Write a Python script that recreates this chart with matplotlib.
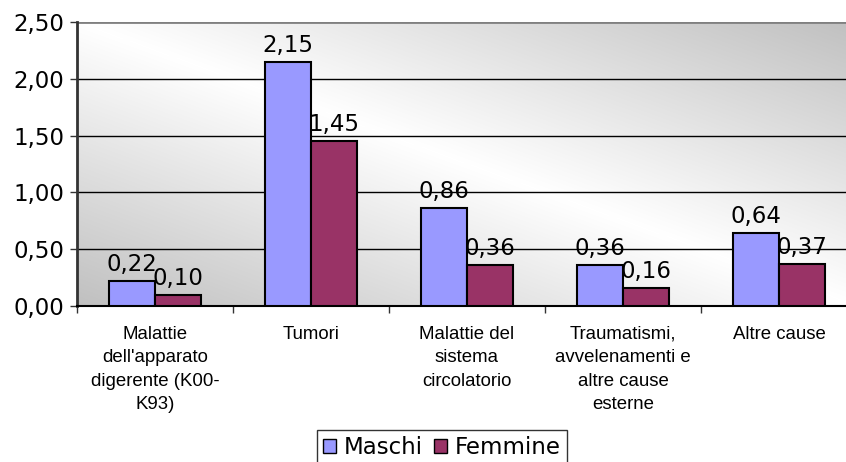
import matplotlib.pyplot as plt
from matplotlib.patches import Patch
from matplotlib.colors import LinearSegmentedColormap
import numpy as np

categorie = ["Malattie\ndell'apparato\ndigerente (K00-\nK93)", "Tumori",
             "Malattie del\nsistema\ncircolatorio",
             "Traumatismi,\navvelenamenti e\naltre cause\nesterne", "Altre cause"]
maschi = [0.22, 2.15, 0.86, 0.36, 0.64]
femmine = [0.10, 1.45, 0.36, 0.16, 0.37]
yticks = [0.0, 0.5, 1.0, 1.5, 2.0, 2.5]

col_m = '#9999FF'
col_f = '#993366'

fig = plt.figure(figsize=(8.46, 4.62), dpi=100)
ax = fig.add_axes([77/846, 1-306/462, 780/846, 284/462])

# sfondo sfumato (diagonale, chiaro al centro)
gx, gy = np.meshgrid(np.linspace(0, 1, 300), np.linspace(1, 0, 300))
g = np.abs(gx + gy - 1)
cmap = LinearSegmentedColormap.from_list('bg', ['#FFFFFF', '#C0C0C0'])
ax.imshow(g, cmap=cmap, vmin=0, vmax=1, extent=[0, 1, 0, 1], transform=ax.transAxes,
          aspect='auto', zorder=0, interpolation='bilinear')

x = np.arange(len(categorie))
w = 0.295
ax.bar(x - w/2, maschi, w, color=col_m, edgecolor='black', linewidth=1.5, zorder=3)
ax.bar(x + w/2, femmine, w, color=col_f, edgecolor='black', linewidth=1.5, zorder=3)

fmt = lambda v: ('%.2f' % v).replace('.', ',')
for i in range(len(categorie)):
    ax.text(x[i] - w/2, maschi[i] + 0.045, fmt(maschi[i]), ha='center', va='bottom',
            fontsize=16.5, family='DejaVu Sans', zorder=4)
    ax.text(x[i] + w/2, femmine[i] + 0.045, fmt(femmine[i]), ha='center', va='bottom',
            fontsize=16.5, family='DejaVu Sans', zorder=4)

ax.set_xlim(-0.5, len(categorie) - 0.5)
ax.set_ylim(0, 2.5)
ax.set_yticks(yticks)
ax.set_yticklabels([fmt(v) for v in yticks], fontsize=16.5, family='DejaVu Sans')
for v in yticks[1:-1]:
    ax.axhline(v, color='black', linewidth=1, zorder=1)
ax.axhline(2.5, color='#808080', linewidth=2, zorder=1)

ax.set_xticks(np.arange(len(categorie) + 1) - 0.5)
ax.set_xticklabels([])
ax.tick_params(axis='x', length=5, width=1, color='#333333')
ax.tick_params(axis='y', length=5, width=1, color='#333333', pad=4)
for xi, lab in zip(x, categorie):
    ax.text(xi, -0.175, lab, ha='center', va='top', fontsize=13.4, family='Liberation Sans',
            linespacing=1.5, transform=ax.transData)

for s in ['top', 'right']:
    ax.spines[s].set_visible(False)
ax.spines['left'].set_color('#333333')
ax.spines['left'].set_linewidth(2)
ax.spines['bottom'].set_color('black')
ax.spines['bottom'].set_linewidth(1.5)
ax.set_zorder(1)

handles = [Patch(facecolor=col_m, edgecolor='black', label='Maschi'),
           Patch(facecolor=col_f, edgecolor='black', label='Femmine')]
leg = fig.legend(handles=handles, loc='upper center', bbox_to_anchor=(442/846, 1-430/462),
                 ncol=2, frameon=True, fancybox=False, edgecolor='black',
                 prop={'family': 'DejaVu Sans', 'size': 16.5}, handlelength=0.55,
                 handleheight=0.55, handletextpad=0.35, columnspacing=0.5,
                 borderpad=0.25, borderaxespad=0)
leg.get_frame().set_linewidth(1)

fig.savefig('out.png', dpi=100)
